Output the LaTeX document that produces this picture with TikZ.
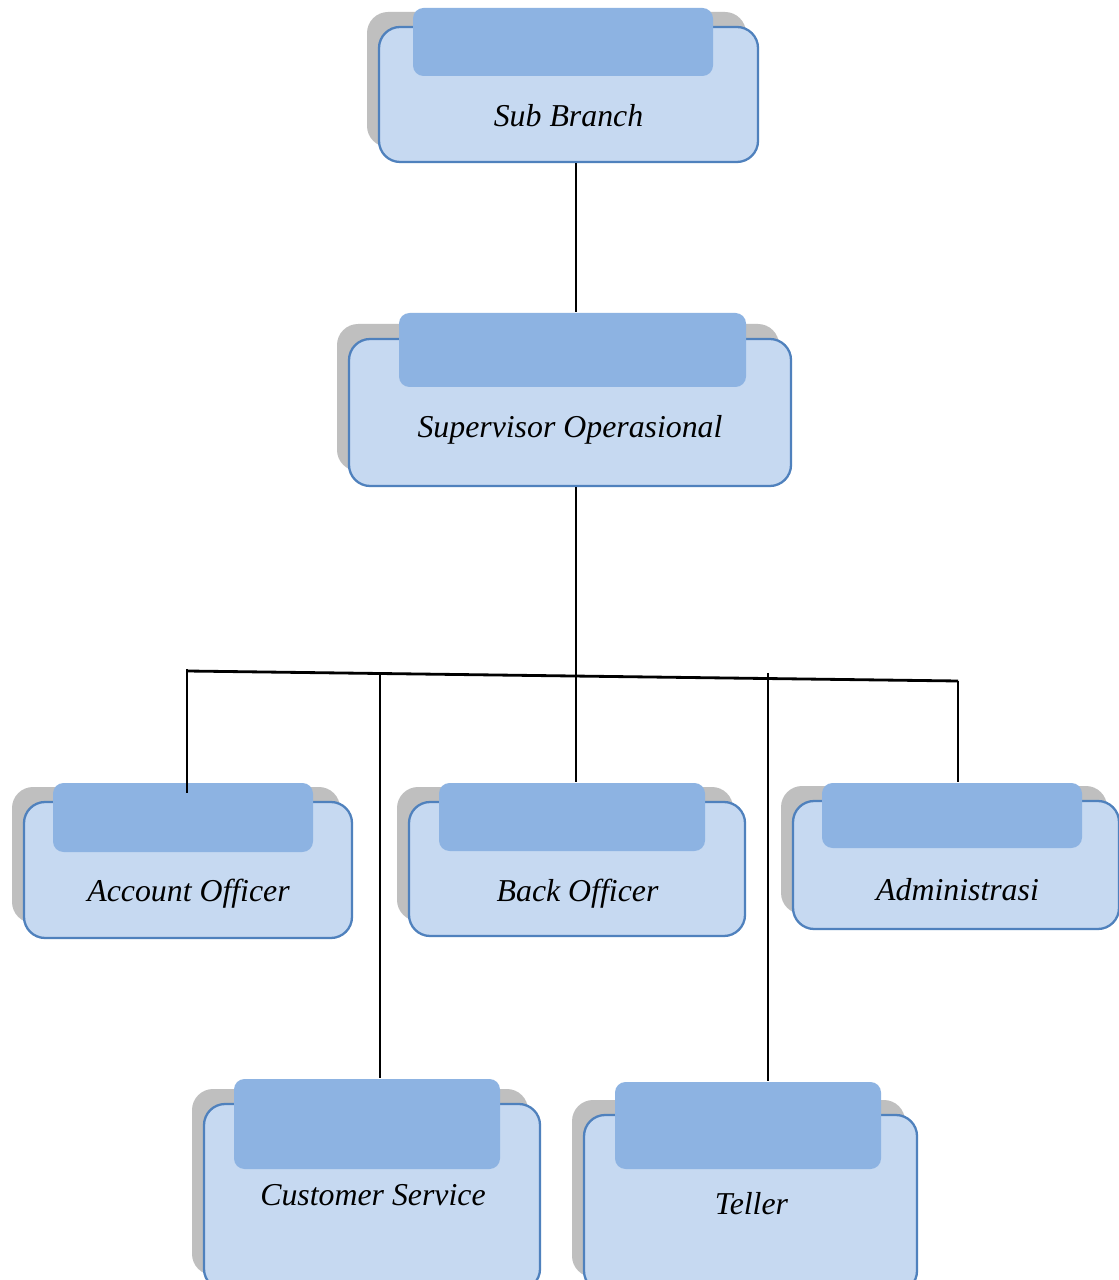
\documentclass[tikz,border=0pt]{standalone}
\usepackage{fontspec}
\setmainfont{Liberation Serif}
\usetikzlibrary{fit,calc}
\definecolor{boxfill}{HTML}{C6D9F1}
\definecolor{boxline}{HTML}{4F81BD}
\definecolor{headfill}{HTML}{8DB3E2}
\definecolor{shadowgray}{HTML}{BFBFBF}
\tikzset{
  mainbox/.style={draw=boxline, line width=0.65pt, fill=boxfill, rounded corners=6pt, inner sep=0pt},
  shadowbox/.style={fill=shadowgray, rounded corners=6pt, inner sep=0pt},
  headbox/.style={fill=headfill, rounded corners=3pt, inner sep=0pt},
  lbl/.style={font=\fontsize{9.05}{11}\selectfont\itshape, anchor=base, inner sep=0pt},
  conn/.style={line width=0.8pt, draw=black},
}
\newcommand{\orgunit}[9]{%
  \coordinate (#1-a) at (#2,#3);
  \coordinate (#1-b) at (#4,#5);
  \coordinate (#1-sa) at ($(#2,#3)+(-12,-15)$);
  \coordinate (#1-sb) at ($(#4,#5)+(-12,-15)$);
  \coordinate (#1-ha) at (#6,#7);
  \coordinate (#1-hb) at (#8,#9);
  \node[shadowbox, fit=(#1-sa)(#1-sb)] (#1-s) {};
  \node[mainbox, fit=(#1-a)(#1-b)] (#1) {};
  \node[headbox, fit=(#1-ha)(#1-hb)] (#1-h) {};
}
\begin{document}
\begin{tikzpicture}[x=0.01cm, y=-0.01cm]
\useasboundingbox[fill=white] (0,0) rectangle (1118,1280);

% boxes: name, main rect, header rect
\orgunit{sb}{379}{27}{758}{162}{413}{8}{713}{76}
\orgunit{so}{349}{339}{791}{486}{399}{313}{746}{387}
\orgunit{ao}{24}{802}{352}{938}{53}{783}{313}{852}
\orgunit{bo}{409}{802}{745}{936}{439}{783}{705}{851}
\orgunit{ad}{793}{801}{1119}{929}{822}{783}{1082}{848}
\orgunit{cs}{204}{1104}{540}{1290}{234}{1079}{500}{1169}
\orgunit{te}{584}{1115}{917}{1292}{615}{1082}{881}{1169}

% labels
\node[lbl] (sb-t) at (568.5,127) {Sub Branch};
\node[lbl] (so-t) at (570,438) {Supervisor Operasional};
\node[lbl] (ao-t) at (188.5,901) {Account Officer};
\node[lbl] (bo-t) at (577.5,901) {Back Officer};
\node[lbl] (ad-t) at (957.5,900) {Administrasi};
\node[lbl] (cs-t) at (373,1205) {Customer Service};
\node[lbl] (te-t) at (751.5,1214) {Teller};

% connector helper coordinates
\coordinate (trunk) at (576,0);
\coordinate (barL) at (187,671);
\coordinate (barR) at (958,681);
\coordinate (barLtop) at (187,669);
\coordinate (aoEnd) at (187,793);
\coordinate (csTop) at (380,673);
\coordinate (teTop) at (768,673);

% connectors
\draw[conn] (sb.south -| trunk) -- (so-h.north -| trunk);
\draw[conn] (so.south -| trunk) -- (bo-h.north -| trunk);
\draw[conn] (barL) -- (barR);
\draw[conn] (barLtop) -- (aoEnd);
\draw[conn] (csTop) -- (csTop |- cs-h.north);
\draw[conn] (teTop) -- (teTop |- te-h.north);
\draw[conn] (barR) -- (barR |- ad-h.north);
\end{tikzpicture}
\end{document}
